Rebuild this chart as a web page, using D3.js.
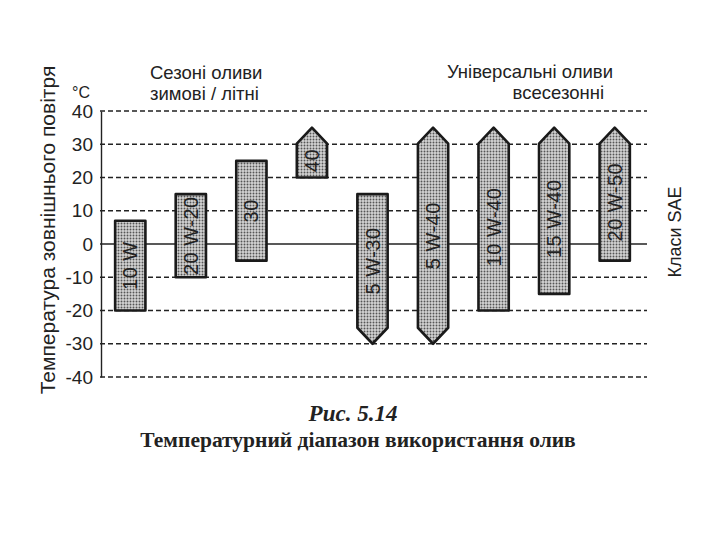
<!DOCTYPE html>
<html>
<head>
<meta charset="utf-8">
<script src="https://cdn.jsdelivr.net/npm/d3@7"></script>
<style>
  body { margin: 0; background: #fff; }
  svg { display: block; }
  text { font-family: "Liberation Sans", Arial, sans-serif; fill: #222; }
  .serif { font-family: "Liberation Serif", "Times New Roman", serif; }
</style>
</head>
<body>
<svg id="chart" width="720" height="540"></svg>
<script>
// SAE grades and their usage temperature range, °C
const grades = ["10 W", "20 W-20", "30", "40", "5 W-30", "5 W-40", "10 W-40", "15 W-40", "20 W-50"];
const minTemp = [-20, -10, -5, 20, -30, -30, -20, -15, -5];
const maxTemp = [7, 15, 25, 35, 15, 35, 35, 35, 35];
// pointed ends mean the range goes further
const arrowTop = [false, false, false, true, false, true, true, true, true];
const arrowBottom = [false, false, false, false, true, true, false, false, false];
const yTicks = [40, 30, 20, 10, 0, -10, -20, -30, -40];

const data = grades.map((g, i) => ({
  grade: g, lo: minTemp[i], hi: maxTemp[i], up: arrowTop[i], down: arrowBottom[i]
}));

const svg = d3.select("#chart");

const x = d3.scaleBand()
    .domain(grades)
    .range([100, 645])
    .paddingInner(0.5)
    .paddingOuter(0.25);

const y = d3.scaleLinear()
    .domain([-40, 40])
    .range([377, 111]);

// dotted grey fill like the print
const defs = svg.append("defs");
const pat = defs.append("pattern")
    .attr("id", "dots")
    .attr("width", 3).attr("height", 3)
    .attr("patternUnits", "userSpaceOnUse");
pat.append("rect").attr("width", 3).attr("height", 3).attr("fill", "#d4d4d4");
pat.append("circle").attr("cx", 1.5).attr("cy", 1.5).attr("r", 0.95).attr("fill", "#555");

// grid lines
svg.append("g")
  .selectAll("line")
  .data(yTicks)
  .join("line")
    .attr("x1", 100)
    .attr("x2", 647)
    .attr("y1", d => y(d))
    .attr("y2", d => y(d))
    .attr("stroke", "#222")
    .attr("stroke-width", d => d === 0 ? 1.4 : 1.3)
    .attr("stroke-dasharray", d => d === 0 ? null : "5,3");

// y axis, plain hyphen for negatives as in the print
const yAxis = d3.axisLeft(y)
    .tickValues(yTicks)
    .tickFormat(d => String(d))
    .tickSize(0)
    .tickPadding(8);

const ax = svg.append("g")
    .attr("transform", "translate(101,0)")
    .call(yAxis);
ax.select(".domain").attr("stroke", "#222").attr("stroke-width", 1.4);
ax.selectAll("text")
    .style("font-family", '"Liberation Sans", Arial, sans-serif')
    .style("font-size", "19px")
    .attr("fill", "#222");

svg.append("text")
    .attr("x", 72).attr("y", 98)
    .style("font-size", "16px")
    .text("°C");

svg.append("text")
    .attr("transform", "translate(55,230) rotate(-90)")
    .attr("text-anchor", "middle")
    .style("font-size", "21px")
    .text("Температура зовнішнього повітря");

// bars
const ah = 16;
const bw = x.bandwidth();

function barPath(d) {
  const x0 = x(d.grade), x1 = x0 + bw, xc = x0 + bw / 2;
  const yt = y(d.hi), yb = y(d.lo);
  const p = d3.path();
  if (d.up) {
    p.moveTo(x0, yt + ah); p.lineTo(xc, yt); p.lineTo(x1, yt + ah);
  } else {
    p.moveTo(x0, yt); p.lineTo(x1, yt);
  }
  if (d.down) {
    p.lineTo(x1, yb - ah); p.lineTo(xc, yb); p.lineTo(x0, yb - ah);
  } else {
    p.lineTo(x1, yb); p.lineTo(x0, yb);
  }
  p.closePath();
  return p.toString();
}

const bars = svg.append("g")
  .selectAll("g")
  .data(data)
  .join("g");

bars.append("path")
    .attr("d", barPath)
    .attr("fill", "url(#dots)")
    .attr("stroke", "#1a1a1a")
    .attr("stroke-width", 2.6)
    .attr("stroke-linejoin", "round");

bars.append("text")
    .attr("transform", d => {
      const top = y(d.hi) + (d.up ? ah : 0);
      const bot = y(d.lo) - (d.down ? ah : 0);
      return `translate(${x(d.grade) + bw / 2},${(top + bot) / 2}) rotate(-90)`;
    })
    .attr("text-anchor", "middle")
    .attr("dominant-baseline", "central")
    .style("font-size", "20px")
    .style("letter-spacing", "0.5px")
    .text(d => d.grade);

// group headings
const head = svg.append("g").style("font-size", "18.5px");
head.append("text").attr("x", 150).attr("y", 79).text("Сезоні оливи");
head.append("text").attr("x", 150).attr("y", 100).text("зимові / літні");
head.append("text").attr("x", 613).attr("y", 78).attr("text-anchor", "end").text("Універсальні оливи");
head.append("text").attr("x", 604).attr("y", 99).attr("text-anchor", "end").text("всесезонні");

svg.append("text")
    .attr("transform", "translate(681,232) rotate(-90)")
    .attr("text-anchor", "middle")
    .style("font-size", "18px")
    .text("Класи SAE");

// caption
svg.append("text")
    .attr("class", "serif")
    .attr("x", 353).attr("y", 421)
    .attr("text-anchor", "middle")
    .style("font-size", "23px")
    .style("font-weight", "bold")
    .style("font-style", "italic")
    .text("Рис. 5.14");

svg.append("text")
    .attr("class", "serif")
    .attr("x", 358).attr("y", 447)
    .attr("text-anchor", "middle")
    .style("font-size", "21.5px")
    .style("font-weight", "bold")
    .text("Температурний діапазон використання олив");
</script>
</body>
</html>
